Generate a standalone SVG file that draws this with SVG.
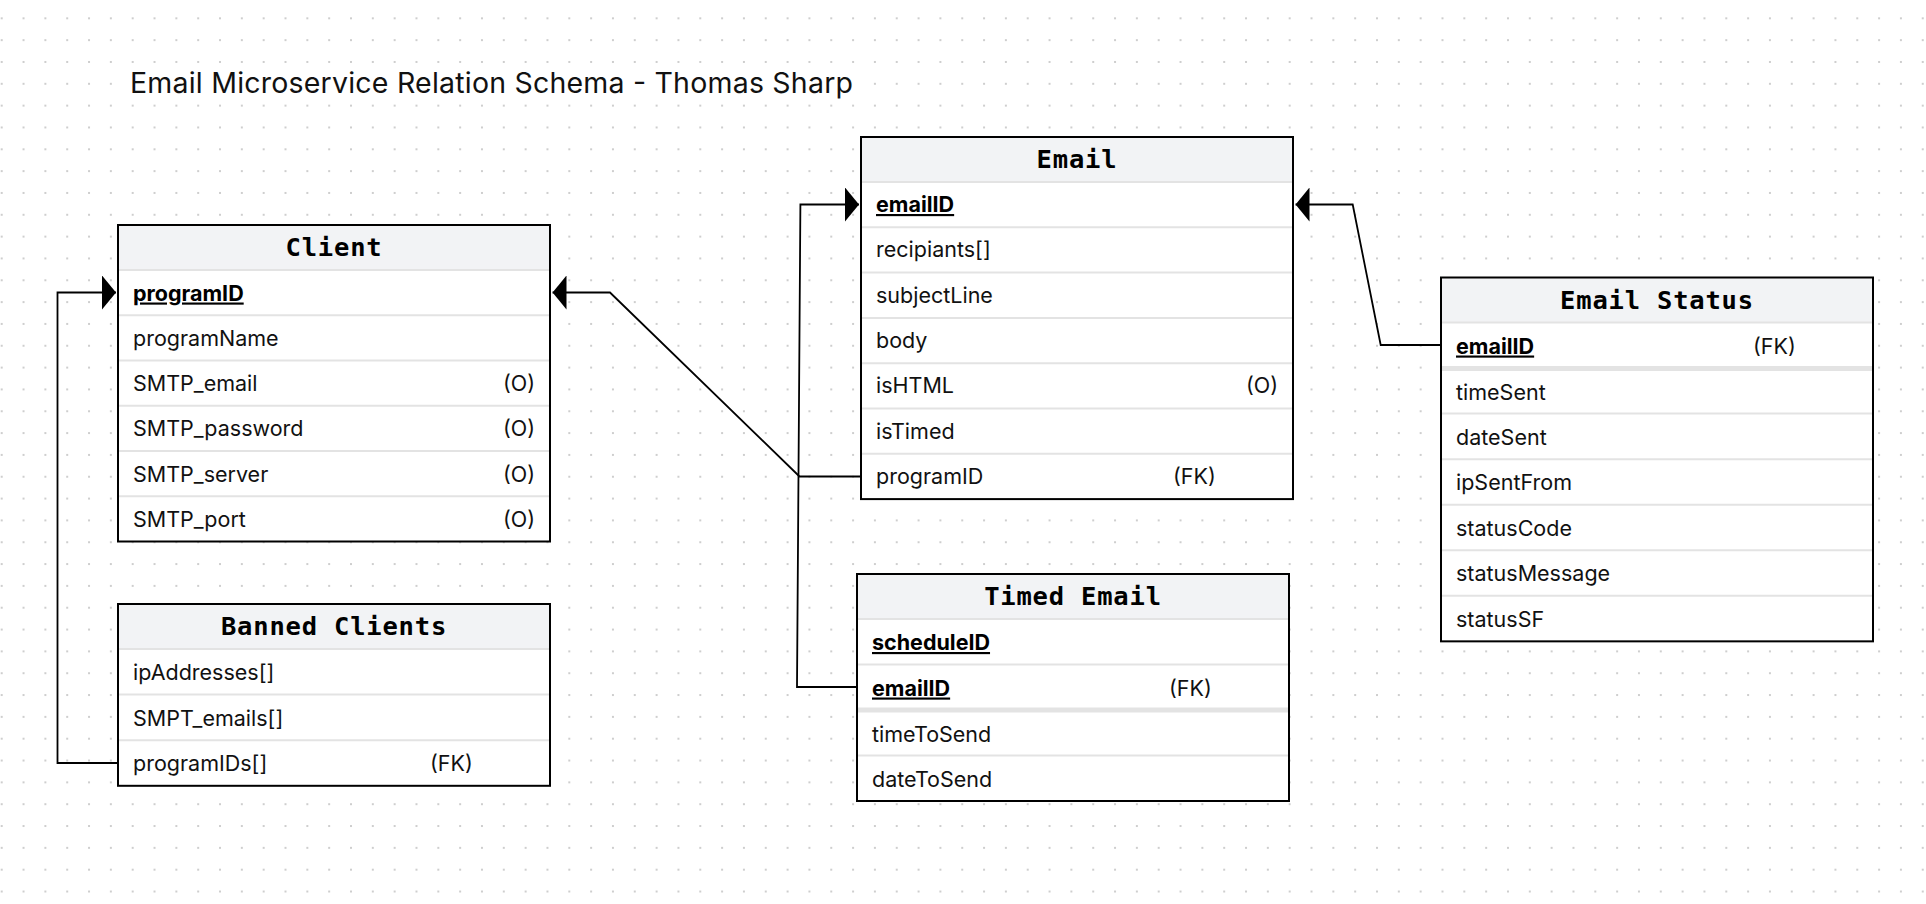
<svg xmlns="http://www.w3.org/2000/svg" width="1926" height="904" viewBox="0 0 1926 904">
<defs>
<pattern id="dots" patternUnits="userSpaceOnUse" x="-9.2" y="7.4" width="21.83" height="21.83">
<circle cx="10.915" cy="10.915" r="1.05" fill="#c2c2c2"/>
</pattern>
<marker id="arrow" markerUnits="userSpaceOnUse" viewBox="0 0 14 34" markerWidth="14" markerHeight="34" refX="14" refY="17" orient="auto">
<path d="M0,0 L14,17 L0,34 Z" fill="#000"/>
</marker>
<style>
.box{fill:#fff}
.hdr{fill:#f2f3f5}
.border{fill:none;stroke:#000;stroke-width:2}
.sep{stroke:#e3e3e3;stroke-width:2}
.thick{stroke:#e3e3e3;stroke-width:5}
.title{font-family:"Inter","Liberation Sans",sans-serif;font-size:28.5px;fill:#111}
.htxt{font-family:"DejaVu Sans Mono","Liberation Mono",monospace;font-weight:bold;font-size:25.5px;letter-spacing:0.8px;fill:#000;text-anchor:middle}
.row{font-family:"Inter","Liberation Sans",sans-serif;font-size:21.5px;fill:#111}
.key{font-weight:bold;text-decoration:underline;fill:#000}
.conn{fill:none;stroke:#000;stroke-width:1.8}
</style>
</defs>
<rect width="1926" height="904" fill="#fff"/>
<rect width="1926" height="904" fill="url(#dots)"/>
<rect x="122" y="70" width="738" height="30" fill="#fff"/>
<text class="title" x="130" y="92.5" textLength="723" lengthAdjust="spacing">Email Microservice Relation Schema - Thomas Sharp</text>

<g id="connectors">
<path class="conn" d="M117,763 H57.5 V292.5 H116" marker-end="url(#arrow)"/>
<path class="conn" d="M860,476.5 H799.5 L610,292.5 H552.5" marker-end="url(#arrow)"/>
<path class="conn" d="M856,687 H797 L800.4,204.5 H859" marker-end="url(#arrow)"/>
<path class="conn" d="M1440,345 H1380.7 L1352.7,204.5 H1295.5" marker-end="url(#arrow)"/>
</g>

<g id="client" transform="translate(118,225)">
<rect class="box" x="0" y="0" width="432" height="316.5"/>
<rect class="hdr" x="0" y="0" width="432" height="45"/>
<line class="sep" x1="0" x2="432" y1="45" y2="45"/>
<line class="sep" x1="0" x2="432" y1="90.25" y2="90.25"/>
<line class="sep" x1="0" x2="432" y1="135.5" y2="135.5"/>
<line class="sep" x1="0" x2="432" y1="180.75" y2="180.75"/>
<line class="sep" x1="0" x2="432" y1="226" y2="226"/>
<line class="sep" x1="0" x2="432" y1="271.25" y2="271.25"/>
<rect class="border" x="0" y="0" width="432" height="316.5"/>
<text class="htxt" x="216" y="31">Client</text>
<text class="row key" x="15" y="75.5">programID</text>
<text class="row" x="15" y="120.75">programName</text>
<text class="row" x="15" y="166">SMTP_email</text>
<text class="row" x="385" y="166">(O)</text>
<text class="row" x="15" y="211.25">SMTP_password</text>
<text class="row" x="385" y="211.25">(O)</text>
<text class="row" x="15" y="256.5">SMTP_server</text>
<text class="row" x="385" y="256.5">(O)</text>
<text class="row" x="15" y="301.75">SMTP_port</text>
<text class="row" x="385" y="301.75">(O)</text>
</g>

<g id="banned-clients" transform="translate(118,604)">
<rect class="box" x="0" y="0" width="432" height="181.8"/>
<rect class="hdr" x="0" y="0" width="432" height="45"/>
<line class="sep" x1="0" x2="432" y1="45" y2="45"/>
<line class="sep" x1="0" x2="432" y1="90.6" y2="90.6"/>
<line class="sep" x1="0" x2="432" y1="136.2" y2="136.2"/>
<rect class="border" x="0" y="0" width="432" height="181.8"/>
<text class="htxt" x="216" y="31">Banned Clients</text>
<text class="row" x="15" y="76">ipAddresses[]</text>
<text class="row" x="15" y="121.6">SMPT_emails[]</text>
<text class="row" x="15" y="167.2">programIDs[]</text>
<text class="row" x="312" y="167.2">(FK)</text>
</g>

<g id="email" transform="translate(861,137)">
<rect class="box" x="0" y="0" width="432" height="362.1"/>
<rect class="hdr" x="0" y="0" width="432" height="45"/>
<line class="sep" x1="0" x2="432" y1="45" y2="45"/>
<line class="sep" x1="0" x2="432" y1="90.3" y2="90.3"/>
<line class="sep" x1="0" x2="432" y1="135.6" y2="135.6"/>
<line class="sep" x1="0" x2="432" y1="180.9" y2="180.9"/>
<line class="sep" x1="0" x2="432" y1="226.2" y2="226.2"/>
<line class="sep" x1="0" x2="432" y1="271.5" y2="271.5"/>
<line class="sep" x1="0" x2="432" y1="316.8" y2="316.8"/>
<rect class="border" x="0" y="0" width="432" height="362.1"/>
<text class="htxt" x="216" y="30.5">Email</text>
<text class="row key" x="15" y="75">emailID</text>
<text class="row" x="15" y="120.3">recipiants[]</text>
<text class="row" x="15" y="165.6">subjectLine</text>
<text class="row" x="15" y="210.9">body</text>
<text class="row" x="15" y="256.2">isHTML</text>
<text class="row" x="385" y="256.2">(O)</text>
<text class="row" x="15" y="301.5">isTimed</text>
<text class="row" x="15" y="346.8">programID</text>
<text class="row" x="312" y="346.8">(FK)</text>
</g>

<g id="timed-email" transform="translate(857,574)">
<rect class="box" x="0" y="0" width="432" height="227"/>
<rect class="hdr" x="0" y="0" width="432" height="45"/>
<line class="sep" x1="0" x2="432" y1="45" y2="45"/>
<line class="sep" x1="0" x2="432" y1="90.5" y2="90.5"/>
<line class="thick" x1="0" x2="432" y1="136" y2="136"/>
<line class="sep" x1="0" x2="432" y1="181.5" y2="181.5"/>
<rect class="border" x="0" y="0" width="432" height="227"/>
<text class="htxt" x="216" y="30.5">Timed Email</text>
<text class="row key" x="15" y="76">scheduleID</text>
<text class="row key" x="15" y="121.5">emailID</text>
<text class="row" x="312" y="121.5">(FK)</text>
<text class="row" x="15" y="168">timeToSend</text>
<text class="row" x="15" y="212.5">dateToSend</text>
</g>

<g id="email-status" transform="translate(1441,277.5)">
<rect class="box" x="0" y="0" width="432" height="363.85"/>
<rect class="hdr" x="0" y="0" width="432" height="45"/>
<line class="sep" x1="0" x2="432" y1="45" y2="45"/>
<line class="thick" x1="0" x2="432" y1="91" y2="91"/>
<line class="sep" x1="0" x2="432" y1="136.1" y2="136.1"/>
<line class="sep" x1="0" x2="432" y1="181.65" y2="181.65"/>
<line class="sep" x1="0" x2="432" y1="227.2" y2="227.2"/>
<line class="sep" x1="0" x2="432" y1="272.75" y2="272.75"/>
<line class="sep" x1="0" x2="432" y1="318.3" y2="318.3"/>
<rect class="border" x="0" y="0" width="432" height="363.85"/>
<text class="htxt" x="216" y="31">Email Status</text>
<text class="row key" x="15" y="76">emailID</text>
<text class="row" x="312" y="76">(FK)</text>
<text class="row" x="15" y="122.5">timeSent</text>
<text class="row" x="15" y="167.1">dateSent</text>
<text class="row" x="15" y="212.65">ipSentFrom</text>
<text class="row" x="15" y="258.2">statusCode</text>
<text class="row" x="15" y="303.75">statusMessage</text>
<text class="row" x="15" y="349.3">statusSF</text>
</g>
</svg>
